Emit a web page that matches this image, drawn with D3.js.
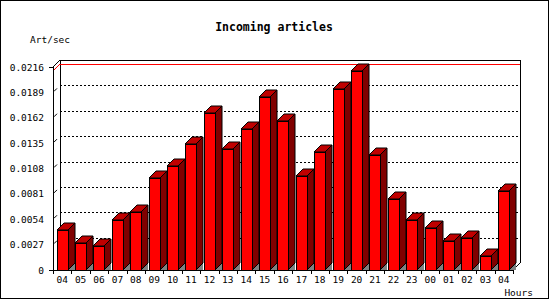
<!DOCTYPE html>
<html>
<head>
<meta charset="utf-8">
<script src="https://cdn.jsdelivr.net/npm/d3@7"></script>
<style>
  body { margin: 0; background: #fff; }
  text { font-family: "DejaVu Sans Mono", monospace; font-size: 9.5px; fill: #000; }
</style>
</head>
<body>
<script>
(function(){

  //chart data
  var hours = ["04", "05", "06", "07", "08", "09", "10", "11", "12", "13", "14", "15", "16",
               "17", "18", "19", "20", "21", "22", "23", "00", "01", "02", "03", "04"]; //categories
  var rates = [0.00422, 0.00287, 0.00255, 0.00529, 0.00614, 0.00976, 0.0111, 0.01337, 0.01674,
               0.01287, 0.0150, 0.01838, 0.01585, 0.0100, 0.01256, 0.01926, 0.02117, 0.0122,
               0.00752, 0.00529, 0.00444, 0.00309, 0.00337, 0.00146, 0.00837]; //articles per second
  var yTicks = [0, 0.0027, 0.0054, 0.0081, 0.0108, 0.0135, 0.0162, 0.0189, 0.0216];
  var yTickLabels = ["0", "0.0027", "0.0054", "0.0081", "0.0108", "0.0135", "0.0162", "0.0189", "0.0216"];

  var width = 550, height = 300;
  var left = 53, right = 513, bottom = 270, top = 67; //front plane of the plot
  var dx = 7, dy = 7; //3d depth offset

  var svg = d3.select("body")
    .append("svg")
    .attr("width", width)
    .attr("height", height);

  //outer frame
  svg.append("rect")
    .attr("x", 0.5).attr("y", 0.5)
    .attr("width", width - 2).attr("height", height - 2)
    .attr("fill", "none").attr("stroke", "#000");

  var x = d3.scaleBand()
    .domain(d3.range(hours.length))
    .range([left, right]);

  var y = d3.scaleLinear()
    .domain([0, yTicks[yTicks.length - 1]])
    .range([bottom, top]);

  var bw = x.bandwidth();

  //back wall grid lines (dotted)
  svg.append("g")
    .selectAll("line")
    .data(yTicks.slice(1, -1))
    .enter()
    .append("line")
    .attr("x1", left + dx).attr("x2", right + dx)
    .attr("y1", function(d){ return Math.round(y(d) - dy) + 0.5; })
    .attr("y2", function(d){ return Math.round(y(d) - dy) + 0.5; })
    .attr("stroke", "#000")
    .attr("stroke-dasharray", "2,2");

  //frame of the 3d box
  var frame = svg.append("g")
    .attr("stroke", "#000").attr("fill", "none")
    .attr("shape-rendering", "crispEdges");
  frame.append("path") //back wall
    .attr("d", "M" + (left + dx) + "," + (bottom - dy) + "V" + (top - dy) + "H" + (right + dx) + "V" + (bottom - dy));
  frame.append("path") //left side top edge
    .attr("d", "M" + left + "," + top + "L" + (left + dx) + "," + (top - dy));
  frame.append("path") //floor right edge
    .attr("d", "M" + right + "," + bottom + "L" + (right + dx) + "," + (bottom - dy));

  //max value line in red
  var maxVal = d3.max(rates);
  svg.append("path")
    .attr("d", "M" + left + "," + y(maxVal) + "L" + (left + dx) + "," + (y(maxVal) - dy) + "H" + (right + dx))
    .attr("stroke", "#f00").attr("fill", "none")
    .attr("shape-rendering", "crispEdges");

  //small depth ticks on the left side
  svg.append("g")
    .selectAll("line")
    .data(yTicks.slice(1, -1))
    .enter()
    .append("line")
    .attr("x1", left + 1).attr("x2", left + 4)
    .attr("y1", function(d){ return y(d) - 1; })
    .attr("y2", function(d){ return y(d) - 4; })
    .attr("stroke", "#000");

  //bars
  var bars = svg.append("g")
    .attr("stroke", "#000")
    .attr("stroke-linejoin", "miter")
    .selectAll("g")
    .data(rates)
    .enter()
    .append("g");

  bars.each(function(d, i){
    var g = d3.select(this);
    var x0 = Math.round(x(i) + bw * 0.2), x1 = x0 + 11;
    var yt = Math.round(y(d));
    //floor shadow
    g.append("path")
      .attr("d", "M" + x1 + "," + bottom + "L" + (x1 + dx) + "," + (bottom - dy) + "V" + bottom + "Z")
      .attr("fill", "#808080").attr("stroke", "none");
    //side
    g.append("path")
      .attr("d", "M" + x1 + "," + bottom + "V" + yt + "L" + (x1 + dx) + "," + (yt - dy) + "V" + (bottom - dy) + "Z")
      .attr("fill", "#800000");
    //top
    g.append("path")
      .attr("d", "M" + x0 + "," + yt + "L" + (x0 + dx) + "," + (yt - dy) + "H" + (x1 + dx) + "L" + x1 + "," + yt + "Z")
      .attr("fill", "#c00000");
    //front
    g.append("rect")
      .attr("x", x0 + 0.5).attr("y", yt + 0.5)
      .attr("width", x1 - x0).attr("height", bottom - yt)
      .attr("fill", "#ff0000");
  });

  //front axes lines
  svg.append("path")
    .attr("d", "M" + left + "," + top + "V" + bottom + "H" + right)
    .attr("stroke", "#000").attr("fill", "none")
    .attr("shape-rendering", "crispEdges");

  //y axis labels
  var yAxis = d3.axisLeft(y)
    .tickValues(yTicks)
    .tickFormat(function(d, i){ return yTickLabels[i]; })
    .tickSize(0)
    .tickPadding(9);

  var yg = svg.append("g")
    .attr("transform", "translate(" + left + ",0)")
    .call(yAxis);
  yg.select(".domain").remove();
  yg.selectAll("text").style("font-family", null).style("font-size", null);

  //short outer ticks at the axis ends
  svg.append("g")
    .selectAll("line")
    .data([0, yTicks[yTicks.length - 1]])
    .enter()
    .append("line")
    .attr("x1", left - 4).attr("x2", left)
    .attr("y1", function(d){ return Math.round(y(d)) + 0.5; })
    .attr("y2", function(d){ return Math.round(y(d)) + 0.5; })
    .attr("stroke", "#000");

  //x axis labels centered in the bands
  var xAxis = d3.axisBottom(x)
    .tickFormat(function(i){ return hours[i]; })
    .tickSize(0)
    .tickPadding(6);

  var xg = svg.append("g")
    .attr("transform", "translate(0," + bottom + ")")
    .call(xAxis);
  xg.select(".domain").remove();

  //x ticks at band boundaries
  svg.append("g")
    .selectAll("line")
    .data(d3.range(hours.length + 1))
    .enter()
    .append("line")
    .attr("x1", function(i){ return Math.round(left + i * bw) + 0.5; })
    .attr("x2", function(i){ return Math.round(left + i * bw) + 0.5; })
    .attr("y1", bottom).attr("y2", bottom + 4)
    .attr("stroke", "#000");

  //titles
  svg.append("text")
    .attr("x", 274).attr("y", 31)
    .attr("text-anchor", "middle")
    .style("font-weight", "bold")
    .style("font-size", "11.5px")
    .text("Incoming articles");

  svg.append("text")
    .attr("x", 30).attr("y", 43)
    .text("Art/sec");

  svg.append("text")
    .attr("x", 533).attr("y", 296)
    .attr("text-anchor", "end")
    .text("Hours");
})();
</script>
</body>
</html>
